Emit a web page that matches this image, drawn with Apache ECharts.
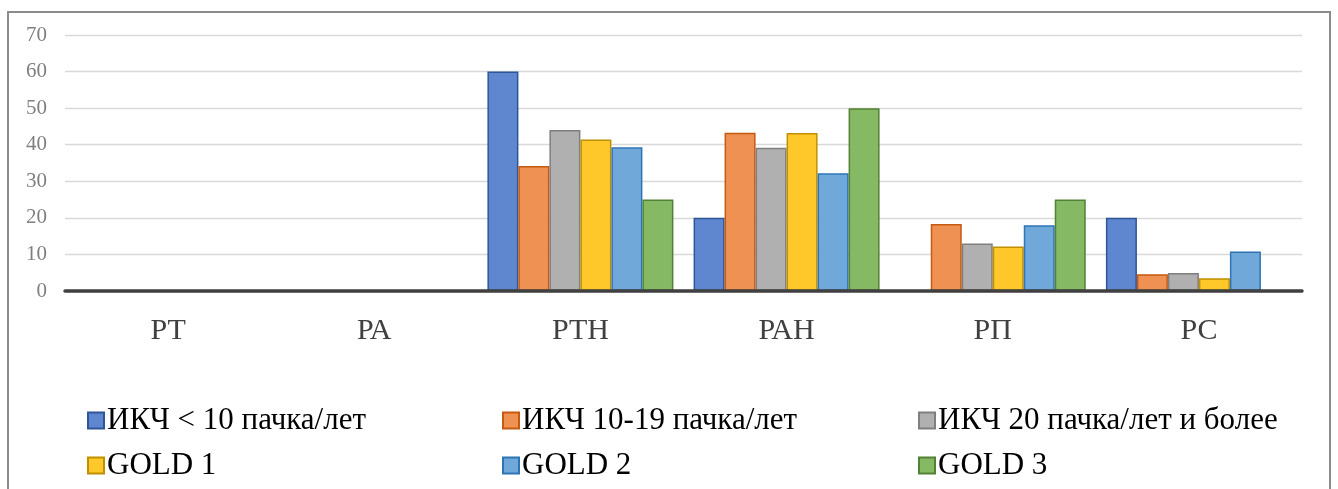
<!DOCTYPE html>
<html>
<head>
<meta charset="utf-8">
<script src="https://cdn.jsdelivr.net/npm/echarts@6/dist/echarts.min.js"></script>
<style>
  html, body { margin: 0; padding: 0; background: #ffffff; }
  #chart { width: 1338px; height: 489px; }
</style>
</head>
<body>
<div id="chart"></div>
<script>
// Categories along the x axis
const categories = ['РТ', 'РА', 'РТН', 'РАН', 'РП', 'РС'];

// Series names (legend order)
const seriesNames = [
  'ИКЧ < 10 пачка/лет',
  'ИКЧ 10-19 пачка/лет',
  'ИКЧ 20 пачка/лет и более',
  'GOLD 1',
  'GOLD 2',
  'GOLD 3'
];

// Values per series, one per category
const ikch10 = [0, 0, 60, 20, 0, 20];
const ikch10to19 = [0, 0, 34.2, 43.3, 18.3, 4.6];
const ikch20plus = [0, 0, 44, 39.2, 13, 4.9];
const gold1 = [0, 0, 41.4, 43.2, 12.2, 3.5];
const gold2 = [0, 0, 39.3, 32.2, 18, 10.8];
const gold3 = [0, 0, 25, 50, 25, 0];

// Y axis ticks
const yMin = 0;
const yMax = 70;
const yStep = 10;

const seriesValues = [ikch10, ikch10to19, ikch20plus, gold1, gold2, gold3];
const fills = ['#5f87cf', '#ef9152', '#b0b0b0', '#ffc82a', '#71a8da', '#85b963'];
const strokes = ['#2f5597', '#c55a11', '#7f7f7f', '#bf9000', '#2e75b6', '#538135'];

const chart = echarts.init(document.getElementById('chart'), null, { renderer: 'canvas' });

const series = seriesNames.map((name, i) => ({
  name: name,
  type: 'bar',
  data: seriesValues[i],
  barWidth: 31,
  barGap: '0%',
  itemStyle: { color: fills[i], borderColor: strokes[i], borderWidth: 1.5 },
  emphasis: { disabled: true },
  animation: false
}));

// Legend laid out in three columns, two rows
const legendCols = [82, 497, 913];
const legendRows = [400, 445];
const legends = seriesNames.map((name, i) => ({
  data: [name],
  left: legendCols[i % 3],
  top: legendRows[Math.floor(i / 3)],
  icon: 'rect',
  itemWidth: 16,
  itemHeight: 16,
  selectedMode: false,
  textStyle: {
    fontFamily: '"Liberation Serif", "Times New Roman", serif',
    fontSize: 31,
    color: '#000000',
    padding: [0, 0, 0, -2]
  }
}));

chart.setOption({
  animation: false,
  backgroundColor: '#ffffff',
  grid: { left: 65, right: 36, top: 35, bottom: 198, containLabel: false },
  legend: legends,
  xAxis: {
    type: 'category',
    data: categories,
    z: 5,
    axisLine: { show: true, lineStyle: { color: '#404040', width: 3.5 } },
    axisTick: { show: false },
    axisLabel: {
      fontFamily: '"Liberation Serif", "Times New Roman", serif',
      fontSize: 30,
      color: '#404040',
      margin: 25
    }
  },
  yAxis: {
    type: 'value',
    min: yMin,
    max: yMax,
    interval: yStep,
    axisLine: { show: false },
    axisTick: { show: false },
    splitLine: { lineStyle: { color: '#d9d9d9', width: 1.3 } },
    axisLabel: {
      fontFamily: '"Liberation Serif", "Times New Roman", serif',
      fontSize: 21,
      color: '#808080',
      margin: 18
    }
  },
  graphic: [
    {
      type: 'polyline',
      shape: { points: [[8, 500], [8, 12], [1330, 12], [1330, 500]] },
      style: { stroke: '#8c8c8c', lineWidth: 2, fill: null },
      silent: true
    }
  ],
  series: series
});
</script>
</body>
</html>
